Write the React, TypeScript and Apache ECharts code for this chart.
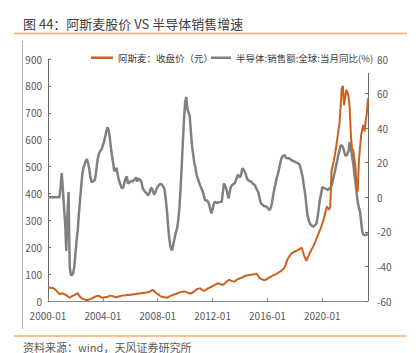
import React, { useEffect, useRef } from "react";
import * as echarts from "echarts";

const titleText = "图 44：阿斯麦股价 VS 半导体销售增速";
const sourceText = "资料来源：wind，天风证券研究所";
const priceName = "阿斯麦：收盘价（元）";
const salesName = "半导体:销售额:全球:当月同比(%)";

const startYear = 2000;
const monthCount = 281; // 2000-01 .. 2023-05
const months: string[] = [];
for (let i = 0; i < monthCount; i++) {
  const y = startYear + Math.floor(i / 12);
  const m = (i % 12) + 1;
  months.push(`${y}-${m < 10 ? "0" + m : m}`);
}

const leftTicks = [0, 900, 100];
const rightTicks = [-60, 80, 20];

// ASML close price (left axis), monthly from 2000-01
const asmlPrice = [
  47, 49, 50, 48, 49, 46, 44, 40, 35, 30, 26, 27,
  28, 29, 26, 24, 22, 18, 15, 12, 15, 18, 20, 22,
  24, 27, 29, 22, 16, 12, 9, 7, 6, 5, 4, 4,
  6, 7, 9, 11, 13, 15, 17, 19, 20, 18, 15, 13,
  12, 13, 14, 15, 16, 17, 19, 20, 19, 17, 16, 15,
  14, 15, 17, 18, 19, 20, 20, 21, 21, 22, 22, 22,
  23, 24, 24, 25, 25, 26, 27, 28, 28, 29, 29, 30,
  31, 31, 32, 33, 33, 35, 38, 40, 41, 36, 32, 29,
  26, 23, 19, 17, 16, 15, 14, 13, 12, 14, 16, 19,
  20, 22, 24, 25, 26, 28, 30, 32, 33, 34, 34, 35,
  35, 33, 31, 30, 29, 28, 30, 33, 36, 40, 43, 45,
  46, 47, 44, 41, 39, 38, 41, 44, 47, 49, 51, 53,
  55, 57, 60, 62, 64, 66, 64, 62, 61, 60, 63, 67,
  71, 75, 77, 78, 76, 74, 73, 72, 75, 78, 81, 83,
  84, 86, 88, 90, 92, 94, 95, 96, 97, 97, 98, 99,
  99, 100, 101, 100, 92, 85, 83, 81, 79, 78, 78, 80,
  83, 86, 88, 90, 93, 95, 97, 99, 101, 104, 107, 109,
  112, 116, 120, 125, 136, 148, 159, 165, 171, 177, 180, 182,
  184, 186, 188, 190, 193, 196, 198, 185, 170, 160, 149, 158,
  168, 178, 186, 194, 202, 212, 222, 233, 243, 254, 264, 275,
  288, 301, 318, 335, 351, 345, 340, 351, 481, 500, 520, 543,
  570, 598, 630, 660, 720, 790, 800, 729, 755, 785, 775, 760,
  717, 620, 565, 562, 530, 500, 419, 407, 518, 570, 617, 640,
  655, 630, 670, 700, 754,
];

// Global semiconductor sales YoY % (right axis), monthly from 2000-01
const semiYoY = [
  0, 0, 0, 0, 0, 0, 0, 0, 0, 0, 0, 6,
  14, 5, -6, -15, -31, -10, 3, -40, -45, -45, -44, -40,
  -33, -25, -19, -10, -2, 6, 13, 17, 19, 21, 22, 20,
  17, 12, 9, 9, 9.5, 10, 14, 20, 24, 26, 27, 28,
  30, 32, 35, 38, 40.5, 39, 35, 29, 24, 20, 15, 16,
  17, 13, 10, 8, 6, 5, 6, 9, 11, 12, 8, 8.5,
  9, 9.5, 9, 10, 10.5, 11.5, 9, 11, 10, 10, 8, 5,
  4, 3, 2.5, 1.5, 1.3, 3, 5.5, 5, 3, 1.5, 3, 5,
  6, 7, 7.5, 7.7, 7, 6, 4.5, -1, -7, -16, -23, -28,
  -30.5, -30, -26, -23, -20, -18, -13, -6, 5, 18, 32, 45,
  55, 58, 51, 49, 47, 38, 30, 25, 20, 17, 13, 11,
  9, 7, 5.5, 4, 2, -1, -2, -1.5, -2.5, -4, -7, -9.3,
  -7, -4, -2.6, -3, -3.2, -3, -2.8, -2.7, -2.6, 3, 8, 6.5,
  5, 2, -0.6, 3, 6, 7, 7.5, 8, 9, 11, 13, 12.5,
  11.5, 13, 16.8, 16, 15, 13.5, 11, 10, 9.5, 9.2, 9, 8,
  7.5, 7, 5.5, 4, 3, 0, -3, -4, -4.5, -5, -5.2, -5.4,
  -6, -6.8, -7.3, -6, -3, 1, 4.5, 7.5, 11, 13, 16, 19,
  22, 23.5, 24, 24.5, 23, 22.6, 22.6, 22.6, 22, 21.5, 21, 21,
  20.5, 20.2, 20, 19.5, 19, 17, 14, 11, 6, 2, -4, -10,
  -13, -15, -16, -16.5, -17, -16.5, -16, -15, -11, -6, -1, 2,
  6, 5.5, 5.2, 5, 4.5, 4.2, 5, 5.5, 6.5, 9, 12, 15,
  18, 21, 24.5, 27, 30, 30, 29, 27, 24.5, 24, 25, 27,
  32, 28, 24, 20, 14, 9, 3, -2.6, -6, -8.3, -14, -20,
  -21.5, -22, -21.8, -21.5, -21.4,
];

const ORANGE = "#C8621C";
const GRAY = "#808080";
const FONT = "'Noto Sans CJK SC', 'Noto Sans', sans-serif";

const everyFourYears = (i: number) => i % 48 === 0;

export default function App() {
  const ref = useRef<HTMLDivElement>(null);
  useEffect(() => {
    if (!ref.current) return;
    const chart = echarts.init(ref.current, undefined, { renderer: "svg" });
    chart.setOption({
      animation: false,
      textStyle: { fontFamily: FONT },
      grid: { left: 48, right: 48, top: 59, bottom: 52 },
      title: {
        text: titleText,
        left: 18,
        top: 12,
        textStyle: { fontSize: 13, fontWeight: "normal", color: "#404040", fontFamily: FONT },
      },
      graphic: [
        { type: "line", z: 100, shape: { x1: 14, y1: 33.5, x2: 407, y2: 33.5 }, style: { stroke: "#F6AE6E", lineWidth: 1.5 } },
        { type: "line", z: 100, shape: { x1: 14, y1: 336, x2: 407, y2: 336 }, style: { stroke: "#F6AE6E", lineWidth: 1.5 } },
        { type: "rect", z: 3, shape: { x: 205, y: 48, width: 168, height: 25 }, style: { fill: "#ffffff" } },
        {
          type: "text", z: 100, left: 23, top: 341,
          style: { text: sourceText, fontSize: 11, fill: "#595959", fontFamily: FONT },
        },
      ],
      legend: [
        {
          left: 91, top: 53, z: 5, padding: 0,
          data: [priceName],
          icon: "rect", itemWidth: 22, itemHeight: 2.5, itemGap: 4,
          textStyle: { fontSize: 9.5, color: "#404040", fontFamily: FONT },
        },
        {
          left: 211, top: 53, z: 5, padding: 0,
          data: [salesName],
          icon: "rect", itemWidth: 20, itemHeight: 2.5, itemGap: 3,
          textStyle: { fontSize: 9.5, color: "#404040", fontFamily: FONT },
        },
      ],
      xAxis: {
        type: "category",
        data: months,
        boundaryGap: false,
        axisLine: { lineStyle: { color: "#8c8c8c", width: 1 } },
        axisTick: { inside: true, length: 3, interval: everyFourYears, lineStyle: { color: "#8c8c8c" } },
        axisLabel: { interval: everyFourYears, fontSize: 10, color: "#595959", margin: 9, fontFamily: FONT },
        splitLine: { show: false },
      },
      yAxis: [
        {
          type: "value",
          min: leftTicks[0], max: leftTicks[1], interval: leftTicks[2],
          axisLine: { show: true, lineStyle: { color: "#6b6b6b" } },
          axisTick: { show: true, inside: true, length: 3, lineStyle: { color: "#6b6b6b" } },
          axisLabel: { fontSize: 10, color: "#595959", margin: 6, fontFamily: FONT },
          splitLine: { show: false },
        },
        {
          type: "value",
          min: rightTicks[0], max: rightTicks[1], interval: rightTicks[2],
          position: "right",
          axisLine: { show: true, lineStyle: { color: "#6b6b6b" } },
          axisTick: { show: true, inside: true, length: 3, lineStyle: { color: "#6b6b6b" } },
          axisLabel: { fontSize: 10, color: "#595959", margin: 9, fontFamily: FONT },
          splitLine: { show: false },
        },
      ],
      series: [
        {
          name: priceName,
          type: "line",
          yAxisIndex: 0,
          data: asmlPrice,
          showSymbol: false,
          symbol: "none",
          z: 4,
          lineStyle: { color: ORANGE, width: 2 },
          itemStyle: { color: ORANGE },
        },
        {
          name: salesName,
          type: "line",
          yAxisIndex: 1,
          data: semiYoY,
          showSymbol: false,
          symbol: "none",
          z: 2,
          lineStyle: { color: GRAY, width: 2.5 },
          itemStyle: { color: GRAY },
        },
      ],
    });
    return () => chart.dispose();
  }, []);
  return (
    <div style={{ position: "absolute", left: 0, top: 0, width: 416, height: 353 }}>
      <div ref={ref} style={{ width: 416, height: 353, position: "absolute", left: 0, top: 0 }} />
      <div
        style={{
          position: "absolute", left: 22, top: 41, width: 1, height: 288,
          background: "#B4B4B4", pointerEvents: "none",
        }}
      />
    </div>
  );
}
